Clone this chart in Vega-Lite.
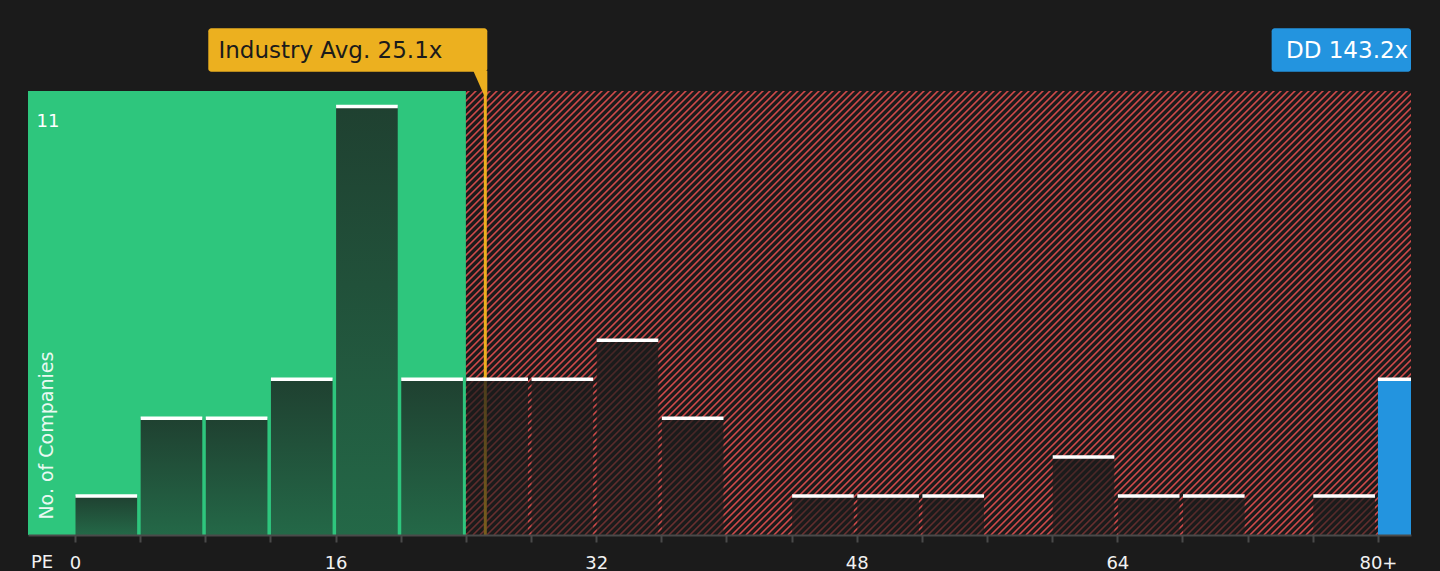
{
  "$schema": "https://vega.github.io/schema/vega-lite/v6.json",
  "width": 1383,
  "height": 444,
  "autosize": {"type": "none"},
  "padding": {"left": 28, "top": 91, "right": 29, "bottom": 36},
  "background": "#1b1b1b",
  "config": {"view": {"stroke": null}, "font": "DejaVu Sans"},
  "datasets": {
    "bins": [
      {"start": 0, "end": 4, "count": 1},
      {"start": 4, "end": 8, "count": 3},
      {"start": 8, "end": 12, "count": 3},
      {"start": 12, "end": 16, "count": 4},
      {"start": 16, "end": 20, "count": 11},
      {"start": 20, "end": 24, "count": 4},
      {"start": 24, "end": 28, "count": 4},
      {"start": 28, "end": 32, "count": 4},
      {"start": 32, "end": 36, "count": 5},
      {"start": 36, "end": 40, "count": 3},
      {"start": 44, "end": 48, "count": 1},
      {"start": 48, "end": 52, "count": 1},
      {"start": 52, "end": 56, "count": 1},
      {"start": 60, "end": 64, "count": 2},
      {"start": 64, "end": 68, "count": 1},
      {"start": 68, "end": 72, "count": 1},
      {"start": 76, "end": 80, "count": 1}
    ],
    "company": [{"label": "DD 143.2x", "pe": 143.2, "start": 80, "end": 82.03, "count": 4}],
    "industry": [{"label": "Industry Avg. 25.1x", "pe": 25.1}],
    "zones": [
      {"zone": "below", "start": -2.886, "end": 24},
      {"zone": "above", "start": 24, "end": 82.03}
    ]
  },
  "layer": [
    {
      "data": {"name": "zones"},
      "transform": [{"filter": "datum.zone == 'above'"}],
      "mark": {
        "type": "point",
        "clip": true,
        "filled": false,
        "opacity": 1,
        "size": 196,
        "stroke": "#cf4a4a",
        "strokeWidth": 1.6,
        "shape": "M-63 0l64-64m-63 64l64-64m-63 64l64-64m-63 64l64-64m-63 64l64-64m-63 64l64-64m-63 64l64-64m-63 64l64-64m-63 64l64-64m-63 64l64-64m-63 64l64-64m-63 64l64-64m-63 64l64-64m-63 64l64-64m-63 64l64-64m-63 64l64-64m-63 64l64-64m-63 64l64-64m-63 64l64-64m-63 64l64-64m-63 64l64-64m-63 64l64-64m-63 64l64-64m-63 64l64-64m-63 64l64-64m-63 64l64-64m-63 64l64-64m-63 64l64-64m-63 64l64-64m-63 64l64-64m-63 64l64-64m-63 64l64-64m-63 64l64-64m-63 64l64-64m-63 64l64-64m-63 64l64-64m-63 64l64-64m-63 64l64-64m-63 64l64-64m-63 64l64-64m-63 64l64-64m-63 64l64-64m-63 64l64-64m-63 64l64-64m-63 64l64-64m-63 64l64-64m-63 64l64-64m-63 64l64-64m-63 64l64-64m-63 64l64-64m-63 64l64-64m-63 64l64-64m-63 64l64-64m-63 64l64-64m-63 64l64-64m-63 64l64-64m-63 64l64-64m-63 64l64-64m-63 64l64-64m-63 64l64-64m-63 64l64-64m-63 64l64-64m-63 64l64-64m-63 64l64-64m-63 64l64-64m-63 64l64-64m-63 64l64-64m-63 64l64-64m-63 64l64-64m-63 64l64-64m-63 64l64-64m-63 64l64-64m-63 64l64-64m-63 64l64-64m-63 64l64-64m-63 64l64-64m-63 64l64-64m-63 64l64-64m-63 64l64-64m-63 64l64-64m-63 64l64-64m-63 64l64-64m-63 64l64-64m-63 64l64-64m-63 64l64-64m-63 64l64-64m-63 64l64-64m-63 64l64-64m-63 64l64-64m-63 64l64-64m-63 64l64-64m-63 64l64-64m-63 64l64-64m-63 64l64-64m-63 64l64-64m-63 64l64-64m-63 64l64-64m-63 64l64-64m-63 64l64-64m-63 64l64-64m-63 64l64-64m-63 64l64-64m-63 64l64-64m-63 64l64-64m-63 64l64-64m-63 64l64-64m-63 64l64-64m-63 64l64-64m-63 64l64-64m-63 64l64-64m-63 64l64-64m-63 64l64-64m-63 64l64-64m-63 64l64-64m-63 64l64-64m-63 64l64-64m-63 64l64-64m-63 64l64-64m-63 64l64-64m-63 64l64-64m-63 64l64-64m-63 64l64-64m-63 64l64-64m-63 64l64-64m-63 64l64-64m-63 64l64-64m-63 64l64-64m-63 64l64-64m-63 64l64-64m-63 64l64-64m-63 64l64-64m-63 64l64-64m-63 64l64-64m-63 64l64-64m-63 64l64-64m-63 64l64-64m-63 64l64-64m-63 64l64-64m-63 64l64-64m-63 64l64-64m-63 64l64-64m-63 64l64-64m-63 64l64-64m-63 64l64-64m-63 64l64-64m-63 64l64-64m-63 64l64-64m-63 64l64-64m-63 64l64-64m-63 64l64-64m-63 64l64-64m-63 64l64-64m-63 64l64-64m-63 64l64-64m-63 64l64-64m-63 64l64-64m-63 64l64-64m-63 64l64-64m-63 64l64-64m-63 64l64-64m-63 64l64-64m-63 64l64-64m-63 64l64-64m-63 64l64-64m-63 64l64-64m-63 64l64-64m-63 64l64-64m-63 64l64-64m-63 64l64-64m-63 64l64-64m-63 64l64-64m-63 64l64-64m-63 64l64-64m-63 64l64-64m-63 64l64-64m-63 64l64-64m-63 64l64-64m-63 64l64-64m-63 64l64-64m-63 64l64-64m-63 64l64-64m-63 64l64-64m-63 64l64-64m-63 64l64-64m-63 64l64-64m-63 64l64-64m-63 64l64-64m-63 64l64-64m-63 64l64-64m-63 64l64-64m-63 64l64-64m-63 64l64-64m-63 64l64-64m-63 64l64-64m-63 64l64-64m-63 64l64-64m-63 64l64-64m-63 64l64-64m-63 64l64-64m-63 64l64-64m-63 64l64-64m-63 64l64-64m-63 64l64-64m-63 64l64-64m-63 64l64-64m-63 64l64-64m-63 64l64-64m-63 64l64-64m-63 64l64-64m-63 64l64-64m-63 64l64-64m-63 64l64-64m-63 64l64-64m-63 64l64-64m-63 64l64-64m-63 64l64-64m-63 64l64-64m-63 64l64-64m-63 64l64-64m-63 64l64-64m-63 64l64-64m-63 64l64-64m-63 64l64-64m-63 64l64-64m-63 64l64-64m-63 64l64-64m-63 64l64-64m-63 64l64-64m-63 64l64-64m-63 64l64-64m-63 64l64-64m-63 64l64-64m-63 64l64-64m-63 64l64-64m-63 64l64-64m-63 64l64-64m-63 64l64-64m-63 64l64-64m-63 64l64-64m-63 64l64-64m-63 64l64-64m-63 64l64-64m-63 64l64-64m-63 64l64-64m-63 64l64-64m-63 64l64-64m-63 64l64-64m-63 64l64-64"
      },
      "encoding": {
        "x": {"field": "start", "type": "quantitative"},
        "y": {"datum": 0, "type": "quantitative"}
      }
    },
    {
      "data": {"name": "zones"},
      "transform": [{"filter": "datum.zone == 'below'"}],
      "mark": {"type": "rect", "color": "#2ec67d"},
      "encoding": {
        "x": {"field": "start", "type": "quantitative"},
        "x2": {"field": "end"},
        "y": {"datum": 0, "type": "quantitative"},
        "y2": {"datum": 11.4}
      }
    },
    {
      "data": {"name": "industry"},
      "mark": {"type": "rule", "color": "#ecb01f", "strokeWidth": 3, "xOffset": 1.5},
      "encoding": {
        "x": {"field": "pe", "type": "quantitative"},
        "y": {"datum": 0, "type": "quantitative"},
        "y2": {"datum": 11.4}
      }
    },
    {
      "data": {"name": "bins"},
      "mark": {
        "type": "rect",
        "xOffset": 0.5,
        "x2Offset": -3,
        "fill": {
          "gradient": "linear",
          "x1": 0, "y1": 0, "x2": 0, "y2": 1,
          "stops": [
            {"offset": 0, "color": "rgba(27,27,27,0.78)"},
            {"offset": 1, "color": "rgba(27,27,27,0.55)"}
          ]
        }
      },
      "encoding": {
        "x": {
          "field": "start",
          "type": "quantitative",
          "scale": {"domain": [-2.886, 82.03], "nice": false, "zero": false},
          "axis": {
            "title": null,
            "zindex": 1,
            "grid": false,
            "values": [0, 4, 8, 12, 16, 20, 24, 28, 32, 36, 40, 44, 48, 52, 56, 60, 64, 68, 72, 76, 80],
            "labelExpr": "datum.value % 16 == 0 ? (datum.value == 80 ? '80+' : datum.label) : ''",
            "labelOverlap": false,
            "labelFontSize": 18,
            "labelColor": "#f2f2f2",
            "labelPadding": 12,
            "tickSize": 7,
            "tickWidth": 2,
            "tickColor": "#4a4a4a",
            "domainColor": "#4a4a4a",
            "domainWidth": 2
          }
        },
        "x2": {"field": "end"},
        "y": {
          "field": "count",
          "type": "quantitative",
          "scale": {"domain": [0, 11.4], "nice": false, "zero": false},
          "axis": {
            "title": null,
            "zindex": 1,
            "domain": false,
            "ticks": false,
            "tickSize": 0,
            "values": [0, 2.75, 5.5, 8.25, 11],
            "labelExpr": "datum.value == 11 ? '11' : ''",
            "labelOverlap": false,
            "labelAlign": "left",
            "labelBaseline": "alphabetic",
            "labelPadding": -8,
            "labelOffset": 20,
            "labelFontSize": 18,
            "labelColor": "#ffffff",
            "gridColor": "#ffffff",
            "gridOpacity": 0.12,
            "gridWidth": 1
          }
        },
        "y2": {"datum": 0}
      }
    },
    {
      "data": {"name": "bins"},
      "mark": {"type": "rule", "color": "#ffffff", "strokeWidth": 3.5, "xOffset": 0.5, "x2Offset": -3},
      "encoding": {
        "x": {"field": "start", "type": "quantitative"},
        "x2": {"field": "end"},
        "y": {"field": "count", "type": "quantitative"}
      }
    },
    {
      "data": {"name": "company"},
      "mark": {"type": "rect", "color": "#2394df"},
      "encoding": {
        "x": {"field": "start", "type": "quantitative"},
        "x2": {"field": "end"},
        "y": {"field": "count", "type": "quantitative"},
        "y2": {"datum": 0}
      }
    },
    {
      "data": {"name": "company"},
      "mark": {"type": "rule", "color": "#ffffff", "strokeWidth": 3.5},
      "encoding": {
        "x": {"field": "start", "type": "quantitative"},
        "x2": {"field": "end"},
        "y": {"field": "count", "type": "quantitative"}
      }
    },
    {
      "data": {"name": "industry"},
      "mark": {"type": "rect", "color": "#ecb01f", "cornerRadius": 3},
      "encoding": {
        "x": {"datum": 8.184, "type": "quantitative"},
        "x2": {"datum": 25.314},
        "y": {"datum": 11.896, "type": "quantitative"},
        "y2": {"datum": 13.01}
      }
    },
    {
      "data": {"name": "industry"},
      "mark": {
        "type": "point",
        "filled": true,
        "opacity": 1,
        "size": 4,
        "color": "#ecb01f",
        "shape": "M-14 -1L0 -1L0 24L-3 24Z"
      },
      "encoding": {
        "x": {"datum": 25.314, "type": "quantitative"},
        "y": {"datum": 11.896, "type": "quantitative"}
      }
    },
    {
      "data": {"name": "industry"},
      "mark": {"type": "text", "align": "left", "baseline": "alphabetic", "fontSize": 23, "color": "#1b1b1b"},
      "encoding": {
        "x": {"datum": 8.807, "type": "quantitative"},
        "y": {"datum": 12.255, "type": "quantitative"},
        "text": {"field": "label"}
      }
    },
    {
      "data": {"name": "company"},
      "mark": {"type": "rect", "color": "#2394df", "cornerRadius": 3},
      "encoding": {
        "x": {"datum": 73.474, "type": "quantitative"},
        "x2": {"datum": 82.03},
        "y": {"datum": 11.896, "type": "quantitative"},
        "y2": {"datum": 13.01}
      }
    },
    {
      "data": {"name": "company"},
      "mark": {"type": "text", "align": "left", "baseline": "alphabetic", "fontSize": 23, "color": "#ffffff"},
      "encoding": {
        "x": {"datum": 74.355, "type": "quantitative"},
        "y": {"datum": 12.255, "type": "quantitative"},
        "text": {"field": "label"}
      }
    },
    {
      "data": {"values": [{"text": "PE"}]},
      "mark": {"type": "text", "align": "left", "baseline": "alphabetic", "fontSize": 18, "color": "#f2f2f2"},
      "encoding": {
        "x": {"datum": -2.708, "type": "quantitative"},
        "y": {"datum": -0.86, "type": "quantitative"},
        "text": {"field": "text"}
      }
    },
    {
      "data": {"values": [{"text": "No. of Companies"}]},
      "mark": {"type": "text", "align": "left", "baseline": "alphabetic", "angle": 270, "fontSize": 19, "color": "#ffffff", "opacity": 0.9},
      "encoding": {
        "x": {"datum": -1.338, "type": "quantitative"},
        "y": {"datum": 0.395, "type": "quantitative"},
        "text": {"field": "text"}
      }
    }
  ]
}
